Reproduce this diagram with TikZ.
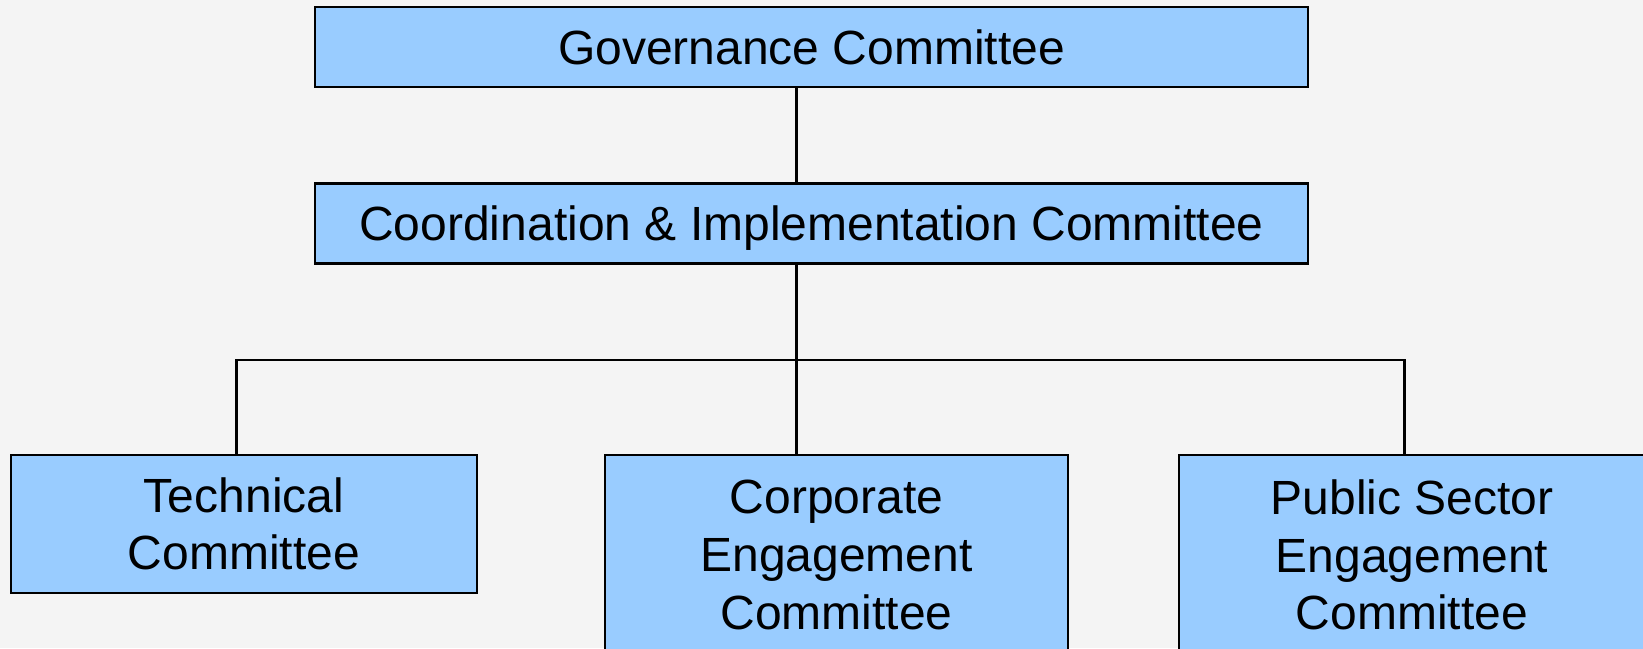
\documentclass[tikz,border=0pt]{standalone}
\usepackage{fontspec}
\setmainfont{Liberation Sans}
\definecolor{boxblue}{HTML}{99CCFF}
\definecolor{bggray}{HTML}{F4F4F4}
\begin{document}
\begin{tikzpicture}
	[x=0.5pt,y=-0.5pt,
	 box/.style={rectangle,draw,line width=1.1pt,fill=boxblue,
	   font=\fontsize{24}{28.8}\selectfont,inner sep=0pt},
	 wide/.style={box,minimum width=496.5pt,minimum height=40pt,text height=17.3pt,text depth=0pt},
	 tall/.style={box,align=center,minimum width=233pt},
	 link/.style={line width=1.4pt}]
    \fill[bggray] (0,0) rectangle (1643,648);
    \useasboundingbox (0,0) rectangle (1643,648);
    \clip (0,0) rectangle (1643,648);
    \node[wide] (gov) at (811.5,47) {Governance Committee};
    \node[wide] (coord) at (811.5,223.5) {Coordination \& Implementation Committee};
    \node[tall,minimum height=69pt] (tech) at (244,524) {Technical\\Committee};
    \node[tall,minimum width=231.5pt,minimum height=100pt] (corp) at (836.5,555) {Corporate\\Engagement\\Committee};
    \node[tall,minimum height=100pt] (pub) at (1412,555) {Public Sector\\Engagement\\Committee};
    \coordinate (trunk) at (796.5,360);
    \coordinate (tbus) at (236.5,360);
    \coordinate (pbus) at (1404.5,360);
    \draw [link] (trunk |- gov.south) -- (trunk |- coord.north);
    \draw [link] (trunk |- coord.south) -- (trunk |- corp.north);
    \draw [link] (tbus |- tech.north) -- (tbus) -- (pbus) -- (pbus |- pub.north);
\end{tikzpicture}
\end{document}
